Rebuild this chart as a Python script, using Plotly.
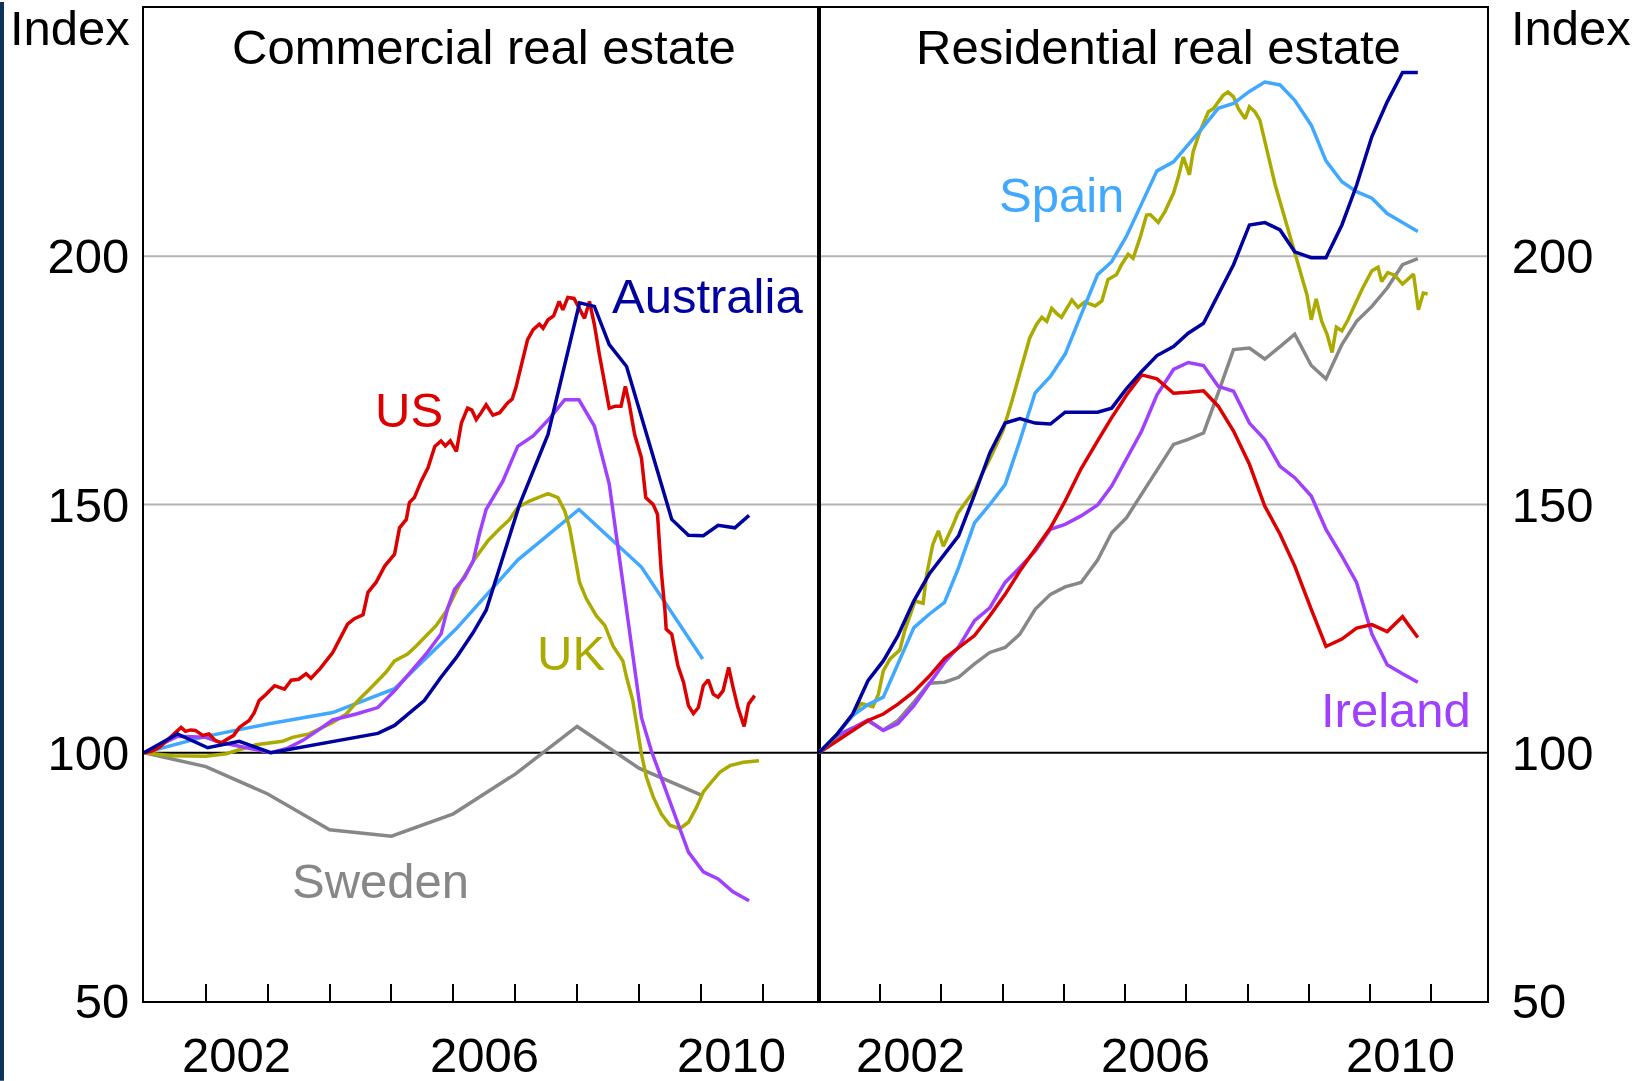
import plotly.graph_objects as go

# ---------------- data ----------------
tick_years = list(range(2002, 2012))
year_labels = ["2002", "2006", "2010"]
y_tick_vals = [50, 100, 150, 200]
y_tick_text = ["50", "100", "150", "200"]
grid_vals = [150, 200]
base_val = 100
panel_titles = ["Commercial real estate", "Residential real estate"]

# Commercial real estate (left panel)
com_sweden_x = [2001, 2002, 2003, 2004, 2005, 2006, 2007, 2008, 2009, 2010]
com_sweden_y = [100, 97.2, 91.7, 84.5, 83.2, 87.7, 95.7, 105.3, 96.9, 91.5]

com_spain_x = [2001, 2002, 2003, 2004.05, 2005.05, 2006.05, 2007.04, 2008.03, 2009.04, 2010.03]
com_spain_y = [100, 103.3, 105.8, 108.1, 112.9, 125.0, 138.8, 149.0, 137.4, 118.9]

com_uk_x = [2001.0, 2001.46, 2002.0, 2002.33, 2002.54, 2002.81, 2003.24, 2003.40, 2003.67, 2003.89,
            2004.05, 2004.27, 2004.48, 2004.70, 2004.91, 2005.05, 2005.26, 2005.40, 2005.56, 2005.72,
            2005.89, 2006.10, 2006.32, 2006.56, 2006.74, 2006.91, 2007.04, 2007.23, 2007.39, 2007.53,
            2007.69, 2007.80, 2007.88, 2007.96, 2008.04, 2008.15, 2008.31, 2008.45, 2008.58, 2008.74,
            2008.80, 2008.90, 2008.98, 2009.04, 2009.12, 2009.23, 2009.36, 2009.50, 2009.66, 2009.80,
            2009.93, 2010.04, 2010.17, 2010.31, 2010.47, 2010.69, 2010.94]
com_uk_y = [100, 99.4, 99.3, 99.8, 100.6, 101.6, 102.3, 103.1, 103.8, 105.1,
            106.1, 107.8, 110.8, 113.5, 116.2, 118.5, 119.9, 121.5, 123.6, 125.6,
            128.6, 133.9, 138.6, 142.7, 145.0, 147.0, 149.4, 150.7, 151.5, 152.2,
            151.4, 148.7, 145.3, 140.0, 134.3, 131.0, 127.6, 125.6, 121.5, 118.5,
            115.2, 110.5, 104.5, 99.8, 95.1, 91.1, 87.7, 85.4, 84.7, 86.0,
            89.0, 92.1, 94.1, 96.1, 97.4, 98.1, 98.4]

com_ireland_x = [2001.0, 2001.54, 2002.0, 2002.22, 2002.54, 2002.81, 2003.05, 2003.30, 2003.57, 2003.81,
                 2004.05, 2004.43, 2004.78, 2005.05, 2005.29, 2005.56, 2005.80, 2005.91, 2006.02, 2006.18,
                 2006.32, 2006.42, 2006.53, 2006.80, 2007.04, 2007.29, 2007.56, 2007.80, 2008.03, 2008.28,
                 2008.52, 2008.66, 2008.80, 2008.92, 2009.04, 2009.20, 2009.42, 2009.61, 2009.80, 2010.04,
                 2010.28, 2010.52, 2010.78]
com_ireland_y = [100, 103.3, 103.1, 102.1, 101.3, 100.6, 100.0, 100.8, 102.5, 104.5,
                 106.6, 107.8, 109.1, 112.5, 115.9, 119.9, 123.9, 129.2, 132.9, 135.3,
                 138.6, 144.0, 149.0, 154.7, 161.7, 163.8, 167.4, 171.1, 171.1, 165.8,
                 154.1, 141.3, 129.5, 118.5, 107.1, 100.4, 93.1, 86.4, 80.0, 76.0,
                 74.6, 72.0, 70.2]

com_us_x = [2001.00, 2001.12, 2001.25, 2001.38, 2001.50, 2001.60, 2001.67, 2001.75, 2001.83, 2001.95,
            2002.05, 2002.15, 2002.25, 2002.35, 2002.45, 2002.54, 2002.70, 2002.78, 2002.86, 2002.95,
            2003.11, 2003.27, 2003.38, 2003.50, 2003.62, 2003.70, 2003.85, 2004.05, 2004.15, 2004.29,
            2004.40, 2004.54, 2004.59, 2004.62, 2004.75, 2004.89, 2005.05, 2005.13, 2005.24, 2005.29,
            2005.37, 2005.48, 2005.59, 2005.70, 2005.80, 2005.87, 2005.95, 2006.05, 2006.13, 2006.23,
            2006.30, 2006.37, 2006.45, 2006.53, 2006.64, 2006.75, 2006.88, 2006.95, 2007.01, 2007.12,
            2007.20, 2007.29, 2007.39, 2007.45, 2007.53, 2007.62, 2007.71, 2007.77, 2007.85, 2007.95,
            2008.04, 2008.12, 2008.20, 2008.28, 2008.36, 2008.44, 2008.52, 2008.62, 2008.71, 2008.78,
            2008.84, 2008.93, 2009.04, 2009.11, 2009.23, 2009.30, 2009.36, 2009.42, 2009.44, 2009.53,
            2009.63, 2009.72, 2009.80, 2009.88, 2009.96, 2010.04, 2010.12, 2010.20, 2010.28, 2010.36,
            2010.45, 2010.52, 2010.60, 2010.70, 2010.77, 2010.87]
com_us_y = [100, 100.3, 101.1, 102.5, 104.0, 105.1, 104.3, 104.6, 104.5, 103.5,
            103.8, 102.5, 102.0, 102.8, 103.5, 105.1, 106.5, 108.0, 110.5, 111.5,
            113.5, 112.8, 114.6, 114.8, 115.9, 115.0, 117.0, 120.2, 122.5, 125.9,
            127.0, 127.8, 130.6, 132.3, 134.3, 137.6, 140.0, 145.3, 147.0, 150.4,
            151.4, 154.7, 157.4, 161.7, 162.8, 161.8, 162.8, 160.7, 166.4, 169.4,
            169.0, 167.1, 168.5, 170.1, 168.0, 168.5, 170.5, 171.2, 173.5, 179.5,
            183.2, 185.2, 186.3, 185.5, 187.2, 188.0, 190.9, 189.2, 191.7, 191.5,
            189.2, 187.5, 190.9, 186.2, 180.2, 174.8, 169.4, 169.8, 169.8, 173.8,
            170.5, 164.1, 159.4, 151.4, 150.0, 148.0, 136.6, 128.7, 124.9, 123.9,
            117.5, 114.2, 109.5, 107.9, 109.1, 113.5, 114.7, 111.8, 111.2, 112.5,
            117.2, 113.2, 109.1, 105.3, 109.8, 111.5]

com_australia_x = [2001.0, 2001.54, 2002.03, 2002.54, 2003.05, 2004.05, 2004.78, 2005.05, 2005.53, 2005.80,
                   2006.05, 2006.32, 2006.53, 2007.07, 2007.53, 2008.04, 2008.28, 2008.52, 2008.80, 2009.53,
                   2009.80, 2010.04, 2010.28, 2010.55, 2010.78]
com_australia_y = [100, 103.8, 101.0, 102.3, 100.0, 102.3, 103.9, 105.5, 110.5, 115.2,
                   119.2, 124.2, 128.7, 150.0, 164.1, 190.6, 189.9, 182.2, 177.8, 147.0,
                   143.8, 143.7, 145.8, 145.3, 147.8]

# Residential real estate (right panel) - quarterly dates
res_quarters = [2001.0, 2001.3, 2001.55, 2001.8, 2002.05, 2002.29, 2002.55, 2002.8, 2003.05, 2003.28,
                2003.54, 2003.79, 2004.04, 2004.28, 2004.53, 2004.78, 2005.02, 2005.28, 2005.55, 2005.78,
                2006.02, 2006.27, 2006.52, 2006.79, 2007.03, 2007.28, 2007.52, 2007.77, 2008.03, 2008.28,
                2008.53, 2008.77, 2009.04, 2009.28, 2009.54, 2009.78, 2010.03, 2010.28, 2010.53, 2010.78]

res_sweden_y = [100, 103.2, 104.8, 106.4, 104.6, 106.5, 110.2, 114.0, 114.2, 115.2,
                117.9, 120.2, 121.2, 123.9, 128.9, 131.9, 133.4, 134.3, 138.8, 144.3,
                147.3, 152.0, 157.0, 162.1, 163.1, 164.4, 172.5, 181.2, 181.5, 179.3,
                181.8, 184.3, 178.0, 175.3, 182.2, 186.9, 189.9, 193.6, 198.3, 199.5]

res_ireland_y = [100, 103.5, 105.0, 106.6, 104.5, 105.9, 109.5, 113.8, 118.2, 121.3,
                 126.6, 129.2, 134.3, 137.3, 140.6, 145.0, 146.0, 147.7, 149.9, 153.7,
                 159.1, 164.8, 172.1, 177.2, 178.6, 178.0, 173.8, 172.8, 166.4, 163.1,
                 157.7, 155.4, 151.7, 145.0, 139.6, 134.3, 123.9, 117.7, 115.9, 114.2]

res_us_y = [100, 102.4, 104.4, 106.5, 107.8, 109.8, 112.3, 115.4, 119.0, 121.2,
            123.6, 127.6, 131.9, 136.6, 141.0, 145.3, 150.7, 157.2, 162.8, 167.5,
            172.0, 176.1, 175.3, 172.4, 172.6, 172.9, 169.8, 164.8, 158.1, 149.7,
            144.0, 137.6, 128.9, 121.4, 122.9, 125.1, 125.8, 124.4, 127.4, 123.2]

res_spain_y = [100, 103.8, 107.5, 109.7, 111.2, 117.9, 125.2, 127.9, 130.3, 137.3,
               146.3, 150.0, 154.0, 162.8, 172.5, 175.8, 180.3, 188.2, 196.3, 198.9,
               204.0, 210.6, 217.2, 219.0, 222.4, 226.1, 229.8, 230.8, 233.2, 235.1,
               234.5, 231.4, 226.4, 219.2, 215.0, 213.0, 211.7, 208.6, 206.8, 205.0]

res_australia_y = [100, 103.8, 107.8, 114.5, 118.5, 123.6, 130.6, 136.0, 140.0, 143.7,
                   152.0, 160.4, 166.4, 167.3, 166.4, 166.2, 168.6, 168.6, 168.6, 169.4,
                   173.3, 176.8, 180.0, 181.8, 184.5, 186.5, 192.2, 198.3, 206.3, 206.8,
                   205.3, 200.9, 199.7, 199.7, 206.3, 214.3, 224.1, 231.1, 237.0, 237.0]

res_uk_x = [2001.0, 2001.12, 2001.25, 2001.37, 2001.47, 2001.58, 2001.69, 2001.78, 2001.88, 2001.97,
            2002.05, 2002.16, 2002.32, 2002.40, 2002.51, 2002.57, 2002.64, 2002.70, 2002.76, 2002.86,
            2002.95, 2003.03, 2003.17, 2003.27, 2003.41, 2003.55, 2003.66, 2003.76, 2003.90, 2004.01,
            2004.15, 2004.31, 2004.44, 2004.55, 2004.64, 2004.72, 2004.80, 2004.88, 2004.96, 2005.13,
            2005.23, 2005.34, 2005.51, 2005.62, 2005.72, 2005.86, 2005.94, 2006.05, 2006.13, 2006.24,
            2006.35, 2006.41, 2006.54, 2006.65, 2006.79, 2006.87, 2006.95, 2007.05, 2007.11, 2007.22,
            2007.36, 2007.44, 2007.52, 2007.60, 2007.68, 2007.77, 2007.85, 2007.96, 2008.03, 2008.12,
            2008.20, 2008.28, 2008.37, 2008.45, 2008.53, 2008.64, 2008.75, 2008.86, 2008.97, 2009.04,
            2009.12, 2009.21, 2009.30, 2009.38, 2009.45, 2009.54, 2009.64, 2009.75, 2009.88, 2010.03,
            2010.13, 2010.19, 2010.29, 2010.40, 2010.53, 2010.71, 2010.79, 2010.87, 2010.94]
res_uk_y = [100, 101.5, 103.0, 104.8, 106.5, 108.1, 109.9, 109.6, 109.3, 111.8,
            116.5, 118.9, 120.7, 124.6, 128.2, 130.6, 130.3, 130.1, 136.0, 142.0,
            144.7, 141.6, 145.3, 148.3, 150.7, 153.0, 156.1, 158.4, 162.1, 165.1,
            170.8, 177.5, 183.5, 186.2, 187.7, 186.9, 189.5, 188.5, 187.7, 191.2,
            189.7, 190.8, 190.0, 191.0, 195.3, 196.3, 198.3, 200.4, 199.6, 203.6,
            208.3, 208.4, 206.8, 209.0, 212.7, 216.0, 220.0, 216.4, 221.0, 225.1,
            229.1, 229.7, 231.1, 232.4, 233.1, 232.1, 229.7, 227.7, 230.1, 229.1,
            227.4, 223.1, 219.0, 214.4, 211.0, 206.3, 201.6, 196.3, 192.2, 187.2,
            191.4, 186.9, 184.2, 180.6, 185.7, 185.0, 187.2, 190.2, 193.6, 197.1,
            197.8, 194.9, 196.7, 196.2, 194.4, 196.4, 189.2, 192.6, 192.4]

# series labels: (text, panel, x, y)
series_labels = [
    ("US", 1, 2005.29, 169.0),
    ("Australia", 1, 2010.11, 191.9),
    ("UK", 1, 2007.90, 120.1),
    ("Sweden", 1, 2004.83, 74.1),
    ("Spain", 2, 2004.96, 212.4),
    ("Ireland", 2, 2010.42, 108.7),
]

# ---------------- style ----------------
FONT = "Liberation Sans, Arial, sans-serif"
FS = 49
COLORS = {
    "US": "#DD0000",
    "Australia": "#0000A0",
    "UK": "#AAAA00",
    "Sweden": "#878787",
    "Spain": "#40A8FF",
    "Ireland": "#A040FF",
}
LW = 3.5

W, H = 1635, 1081
ML, MR, MT, MB = 144, 148, 6, 80
PW = W - ML - MR
PH = H - MT - MB
SPLIT = (819 - ML) / PW
XRANGE = [2001, 2011.91]

fig = go.Figure()

left_series = [
    ("Sweden", com_sweden_x, com_sweden_y),
    ("Spain", com_spain_x, com_spain_y),
    ("UK", com_uk_x, com_uk_y),
    ("Ireland", com_ireland_x, com_ireland_y),
    ("US", com_us_x, com_us_y),
    ("Australia", com_australia_x, com_australia_y),
]
right_series = [
    ("Sweden", res_quarters, res_sweden_y),
    ("Ireland", res_quarters, res_ireland_y),
    ("US", res_quarters, res_us_y),
    ("UK", res_uk_x, res_uk_y),
    ("Spain", res_quarters, res_spain_y),
    ("Australia", res_quarters, res_australia_y),
]

for name, xs, ys in left_series:
    fig.add_trace(go.Scatter(x=xs, y=ys, mode="lines", name=name,
                             line=dict(color=COLORS[name], width=LW),
                             xaxis="x", yaxis="y", showlegend=False, hoverinfo="skip"))
for name, xs, ys in right_series:
    fig.add_trace(go.Scatter(x=xs, y=ys, mode="lines", name=name,
                             line=dict(color=COLORS[name], width=LW),
                             xaxis="x2", yaxis="y2", showlegend=False, hoverinfo="skip"))

xaxis_common = dict(range=XRANGE, tickvals=tick_years, ticktext=[""] * len(tick_years),
                    ticks="inside", ticklen=17, tickwidth=2, tickcolor="black",
                    showline=True, linecolor="black", linewidth=2, mirror=True,
                    showgrid=False, zeroline=False, fixedrange=True)
yaxis_common = dict(range=[50, 250], tickvals=y_tick_vals, ticktext=y_tick_text,
                    showgrid=False,
                    showline=True, linecolor="black", linewidth=2, mirror=True,
                    ticks="", zeroline=False, fixedrange=True,
                    tickfont=dict(family=FONT, size=FS, color="black"))

annotations = []
# panel titles
for i, t in enumerate(panel_titles):
    annotations.append(dict(text=t, xref="paper", yref="paper",
                            x=((484 if i == 0 else 1158) - ML) / PW,
                            y=1 - (45 - MT) / PH, xanchor="center", yanchor="middle",
                            showarrow=False, font=dict(family=FONT, size=FS, color="black")))
# "Index" labels
for cx in (70, 1571):
    annotations.append(dict(text="Index", xref="paper", yref="paper",
                            x=(cx - ML) / PW, y=1 - (26 - MT) / PH,
                            xanchor="center", yanchor="middle", showarrow=False,
                            font=dict(family=FONT, size=FS, color="black")))
# year labels (centred within each year interval)
for xr in ("x", "x2"):
    for lab in year_labels:
        annotations.append(dict(text=lab, xref=xr, yref="paper", x=int(lab) + 0.5,
                                y=-(1055 - (H - MB)) / PH,
                                xanchor="center", yanchor="middle", showarrow=False,
                                font=dict(family=FONT, size=FS, color="black")))
# series labels
for text, panel, lx, ly in series_labels:
    annotations.append(dict(text=text, xref="x" if panel == 1 else "x2",
                            yref="y" if panel == 1 else "y2", x=lx, y=ly,
                            xanchor="center", yanchor="middle", showarrow=False,
                            font=dict(family=FONT, size=FS, color=COLORS[text])))

shapes = []
for xr, yr in (("x", "y"), ("x2", "y2")):
    for gv in grid_vals:
        shapes.append(dict(type="line", xref=xr + " domain", yref=yr, x0=0, x1=1, y0=gv, y1=gv,
                           line=dict(color="#B4B4B4", width=2), layer="below"))
    shapes.append(dict(type="line", xref=xr + " domain", yref=yr, x0=0, x1=1,
                       y0=base_val, y1=base_val,
                       line=dict(color="black", width=2), layer="below"))
# dark edge strip on the far left of the picture
shapes.append(dict(type="rect", xref="paper", yref="paper", x0=-ML / PW, x1=(4 - ML) / PW,
                   y0=-MB / PH, y1=1 + MT / PH, line=dict(width=0), fillcolor="#0E3358",
                   layer="above"))

fig.update_layout(
    width=W, height=H,
    margin=dict(l=ML, r=MR, t=MT, b=MB, pad=0),
    paper_bgcolor="white", plot_bgcolor="white",
    font=dict(family=FONT, size=FS, color="black"),
    xaxis=dict(domain=[0, SPLIT], anchor="y", **xaxis_common),
    xaxis2=dict(domain=[SPLIT, 1], anchor="y2", **xaxis_common),
    yaxis=dict(anchor="x", side="left", ticklabelstandoff=3, **yaxis_common),
    yaxis2=dict(anchor="x2", side="right", ticklabelstandoff=13, **yaxis_common),
    annotations=annotations,
    shapes=shapes,
    showlegend=False,
)

fig.write_html("out.html",
               config={"displayModeBar": False},
               post_script="document.body.style.margin='0';document.body.style.overflow='hidden';")
